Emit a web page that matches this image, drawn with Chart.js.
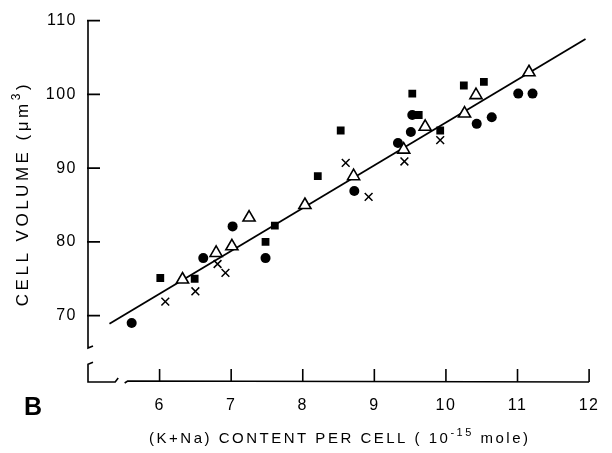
<!DOCTYPE html>
<html><head><meta charset="utf-8">
<script src="https://cdn.jsdelivr.net/npm/chart.js@4/dist/chart.umd.min.js"></script>
<style>html,body{margin:0;padding:0;background:#fff;}#wrap{width:612px;height:453px;}</style>
</head><body><div id="wrap"><canvas id="c" width="612" height="453"></canvas></div>
<script>
// ---- data ----
const xTickLabels = [6, 7, 8, 9, 10, 11, 12];
const yTickLabels = [70, 80, 90, 100, 110];

const circleX = [5.61, 6.61, 7.02, 7.48, 8.72, 9.33, 9.51, 9.53, 10.43, 10.64, 11.01, 11.21];
const circleY = [69.0, 77.8, 82.1, 77.8, 86.9, 93.4, 94.9, 97.2, 96.0, 96.9, 100.1, 100.1];

const squareX = [6.01, 6.49, 7.48, 7.61, 8.21, 8.53, 9.53, 9.62, 9.92, 10.25, 10.53];
const squareY = [75.1, 75.0, 80.0, 82.2, 88.9, 95.1, 100.1, 97.2, 95.1, 101.2, 101.7];

const triangleX = [6.32, 6.79, 7.01, 7.25, 8.03, 8.71, 9.41, 9.71, 10.26, 10.42, 11.16];
const triangleY = [74.9, 78.5, 79.4, 83.3, 85.0, 88.9, 92.5, 95.6, 97.4, 99.9, 103.0];

const crossX = [6.08, 6.50, 6.81, 6.92, 8.60, 8.92, 9.42, 9.92];
const crossY = [71.9, 73.3, 77.0, 75.8, 90.7, 86.1, 90.9, 93.8];

const fitX = [5.30, 11.95];
const fitY = [68.9, 107.5];

const xTitleParts = ['(K+Na) CONTENT PER CELL ( 10', '-15', ' mole)'];
const yTitleParts = ['CELL VOLUME (\u03BCm', '3', ')'];

const pts = (xs, ys) => xs.map((x, i) => ({x: x, y: ys[i]}));

const FONT = "'Liberation Sans', Arial, sans-serif";
Chart.defaults.font.family = FONT;
Chart.defaults.color = '#000';
const ink = '#000';

// draw text pieces [normal, superscript, normal] centred at (0,0) in current transform
function drawSupText(ctx, parts, size, sup, spacing) {
  ctx.letterSpacing = spacing + 'px';
  ctx.font = size + 'px ' + FONT;
  const w0 = ctx.measureText(parts[0]).width;
  const w2 = ctx.measureText(parts[2]).width;
  ctx.font = sup + 'px ' + FONT;
  const w1 = ctx.measureText(parts[1]).width;
  const total = w0 + w1 + w2 - spacing;
  let x = -total / 2;
  ctx.textAlign = 'left'; ctx.textBaseline = 'middle';
  ctx.font = size + 'px ' + FONT;
  ctx.fillText(parts[0], x, 0); x += w0;
  ctx.font = sup + 'px ' + FONT;
  ctx.fillText(parts[1], x, -size * 0.38); x += w1;
  ctx.font = size + 'px ' + FONT;
  ctx.fillText(parts[2], x, 0);
}

const axisPlugin = {
  id: 'axisPlugin',
  beforeDraw(chart) { chart.ctx.letterSpacing = '1.5px'; },
  afterDraw(chart) {
    const ctx = chart.ctx, xs = chart.scales.x, ys = chart.scales.y;
    const ax = xs.left, ay = ys.bottom;
    ctx.save();
    ctx.strokeStyle = ink; ctx.lineWidth = 1.6; ctx.lineCap = 'butt';
    // y axis with break
    const yb1 = ys.getPixelForValue(65.6), yb2 = ys.getPixelForValue(63.8);
    ctx.beginPath();
    ctx.moveTo(ax, ys.top); ctx.lineTo(ax, yb1); ctx.lineTo(ax + 5, yb1 - 2);
    ctx.moveTo(ax + 5, yb2 + 1); ctx.lineTo(ax, yb2 + 3); ctx.lineTo(ax, ay);
    // x axis with break
    const xb1 = xs.getPixelForValue(5.38), xb2 = xs.getPixelForValue(5.54);
    ctx.lineTo(xb1, ay); ctx.lineTo(xb1 + 3, ay - 4);
    ctx.moveTo(xb2 - 2, ay + 1); ctx.lineTo(xb2 + 1, ay - 1); ctx.lineTo(xs.right, ay);
    ctx.stroke();
    // inward ticks
    ctx.beginPath();
    yTickLabels.forEach(v => { const p = ys.getPixelForValue(v); ctx.moveTo(ax - 1, p); ctx.lineTo(ax + 12, p); });
    xTickLabels.forEach(v => { const p = xs.getPixelForValue(v); ctx.moveTo(p, ay); ctx.lineTo(p, ay - 13); });
    ctx.stroke();
    ctx.fillStyle = ink;
    // x axis title
    ctx.save();
    ctx.translate((xs.left + xs.right) / 2, 439);
    drawSupText(ctx, xTitleParts, 15, 11, 2.5);
    ctx.restore();
    // y axis title
    ctx.save();
    ctx.translate(23, (ys.top + ys.bottom) / 2 - 6);
    ctx.rotate(-Math.PI / 2);
    drawSupText(ctx, yTitleParts, 17, 12, 3.5);
    ctx.restore();
    // panel letter
    ctx.letterSpacing = '0px';
    ctx.font = "bold 25px " + FONT;
    ctx.textAlign = 'left'; ctx.textBaseline = 'middle';
    ctx.fillText('B', 24, 408);
    ctx.restore();
  }
};

new Chart(document.getElementById('c'), {
  type: 'scatter',
  data: {
    datasets: [
      {label: 'fit', type: 'line', data: pts(fitX, fitY), borderColor: ink, borderWidth: 1.8, pointRadius: 0, fill: false, order: 5},
      {label: 'circles', data: pts(circleX, circleY), pointStyle: 'circle', pointRadius: 5, backgroundColor: ink, borderColor: ink, borderWidth: 0},
      {label: 'squares', data: pts(squareX, squareY), pointStyle: 'rect', pointRadius: 5.5, backgroundColor: ink, borderColor: ink, borderWidth: 0},
      {label: 'triangles', data: pts(triangleX, triangleY), pointStyle: 'triangle', pointRadius: 7, backgroundColor: '#fff', borderColor: ink, borderWidth: 1.6},
      {label: 'crosses', data: pts(crossX, crossY), pointStyle: 'crossRot', pointRadius: 5.5, backgroundColor: ink, borderColor: ink, borderWidth: 1.5}
    ]
  },
  options: {
    responsive: false, animation: false, devicePixelRatio: 1,
    layout: {padding: {left: 0, right: 15, top: 17, bottom: 0}},
    plugins: {legend: {display: false}, tooltip: {enabled: false}},
    scales: {
      x: {
        type: 'linear', min: 5.0, max: 12,
        afterBuildTicks: s => { s.ticks = xTickLabels.map(v => ({value: v})); },
        afterFit: s => { s.height = 71; },
        grid: {display: false, drawTicks: false}, border: {display: false},
        ticks: {padding: 14, font: {size: 16}, color: ink, callback: v => String(v), maxRotation: 0},
        title: {display: false}
      },
      y: {
        type: 'linear', min: 61.0, max: 110,
        afterBuildTicks: s => { s.ticks = yTickLabels.map(v => ({value: v})); },
        afterFit: s => { s.width = 88; },
        grid: {display: false, drawTicks: false}, border: {display: false},
        ticks: {padding: 11, font: {size: 16}, color: ink, callback: v => String(v)},
        title: {display: false}
      }
    }
  },
  plugins: [axisPlugin]
});
</script></body></html>
